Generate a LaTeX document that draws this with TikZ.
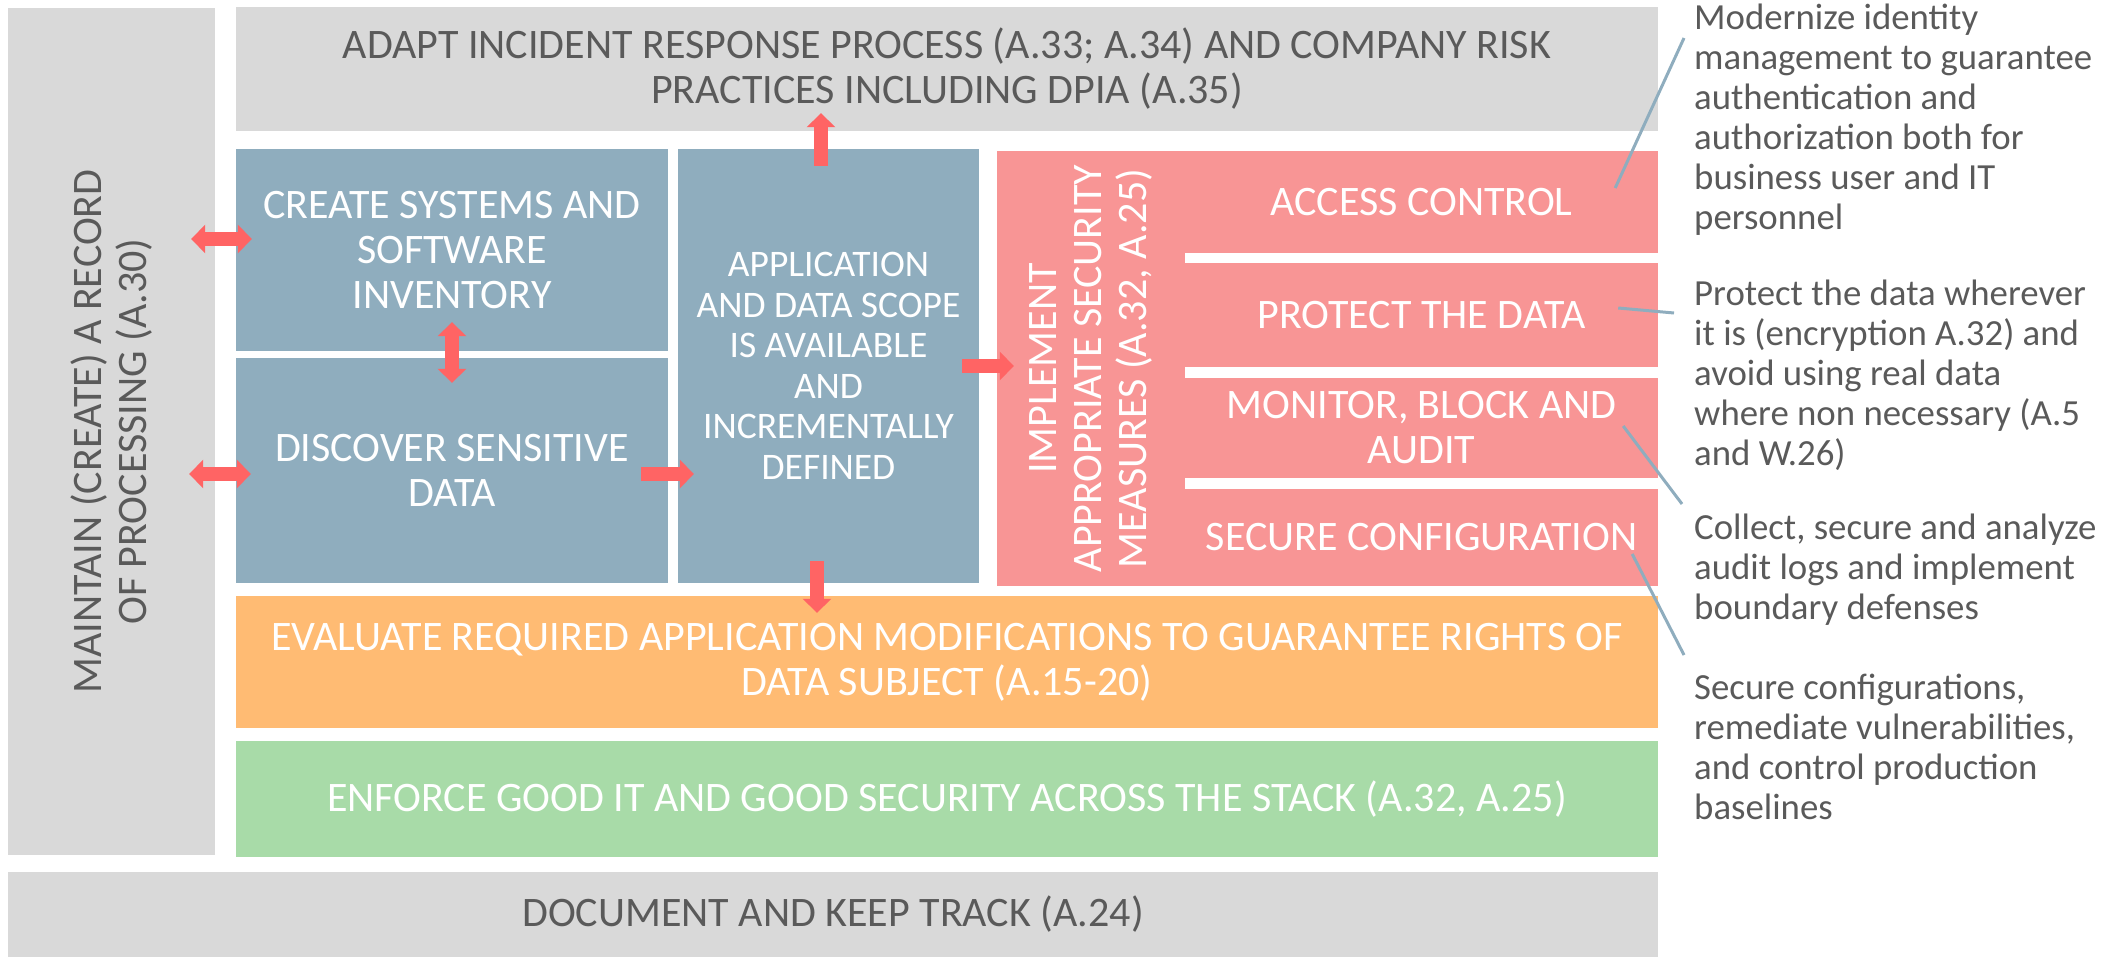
\documentclass[tikz,border=0pt]{standalone}
\usepackage{fontspec}
\setmainfont{Carlito}
\usetikzlibrary{arrows.meta}

\definecolor{greyfill}{HTML}{D9D9D9}
\definecolor{greyink}{HTML}{5A5A5A}
\definecolor{bluefill}{HTML}{8FADBE}
\definecolor{pinkfill}{HTML}{F89595}
\definecolor{orangefill}{HTML}{FFBB73}
\definecolor{greenfill}{HTML}{A8DBA8}
\definecolor{arrowred}{HTML}{FF6464}
\definecolor{leadline}{HTML}{8FADBE}

\newcommand{\boxsize}{\fontsize{42}{45}\selectfont}
\newcommand{\scopesize}{\fontsize{37.5}{40.5}\selectfont}
\newcommand{\notesize}{\fontsize{36.8}{40}\selectfont}

\tikzset{
  box/.style={rectangle, inner sep=0pt, align=center, font=\boxsize},
  greybox/.style={box, fill=greyfill, text=greyink},
  bluebox/.style={box, fill=bluefill, text=white},
  pinkbox/.style={box, fill=pinkfill, text=white},
  blockarrow/.style={draw=arrowred, line width=14pt, -{Triangle[width=28pt,length=14pt]}},
  callout/.style={draw=leadline, line width=3pt},
  note/.style={anchor=west, inner sep=0pt, align=left, text=greyink, font=\notesize}
}

\begin{document}
\begin{tikzpicture}[x=1pt,y=-1pt]
\useasboundingbox (0,0) rectangle (2122,960);

% frame boxes
\node[greybox, minimum width=207, minimum height=847] (maintain) at (111.5,431.5) {};
\node[rotate=90, align=center, text=greyink, font=\boxsize] (maintaintext) at (maintain) {MAINTAIN (CREATE) A RECORD\\OF PROCESSING (A.30)};
\node[greybox, minimum width=1422, minimum height=124] (adapt) at (947,69) {ADAPT INCIDENT RESPONSE PROCESS (A.33; A.34) AND COMPANY RISK\\PRACTICES INCLUDING DPIA (A.35)};

% scope boxes
\node[bluebox, minimum width=432, minimum height=202] (create) at (452,250) {CREATE SYSTEMS AND\\SOFTWARE\\INVENTORY};
\node[bluebox, minimum width=432, minimum height=225] (discover) at (452,470.5) {DISCOVER SENSITIVE\\DATA};
\node[bluebox, minimum width=301, minimum height=434, font=\scopesize] (scope) at (828.5,366) {APPLICATION\\AND DATA SCOPE\\IS AVAILABLE\\AND\\INCREMENTALLY\\DEFINED};

% security measures
\node[pinkbox, minimum width=188, minimum height=435] (measures) at (1091,368.5) {};
\node[rotate=90, align=center, text=white, font=\boxsize] (measurestext) at (measures) {IMPLEMENT\\APPROPRIATE SECURITY\\MEASURES (A.32, A.25)};
\node[pinkbox, minimum width=473, minimum height=102] (access) at (1421.5,202) {ACCESS CONTROL};
\node[pinkbox, minimum width=473, minimum height=104] (protect) at (1421.5,315) {PROTECT THE DATA};
\node[pinkbox, minimum width=473, minimum height=100] (monitor) at (1421.5,428) {MONITOR, BLOCK AND\\AUDIT};
\node[pinkbox, minimum width=473, minimum height=97] (config) at (1421.5,537.5) {SECURE CONFIGURATION};

% bottom layers
\node[box, fill=orangefill, text=white, minimum width=1422, minimum height=132] (evaluate) at (947,662) {EVALUATE REQUIRED APPLICATION MODIFICATIONS TO GUARANTEE RIGHTS OF\\DATA SUBJECT (A.15-20)};
\node[box, fill=greenfill, text=white, minimum width=1422, minimum height=116] (enforce) at (947,799) {ENFORCE GOOD IT AND GOOD SECURITY ACROSS THE STACK (A.32, A.25)};
\node[greybox, minimum width=1650, minimum height=85] (document) at (833,914.5) {DOCUMENT AND KEEP TRACK (A.24)};

% notes
\node[note] (note1) at (1694,120) {Modernize identity\\management to guarantee\\authentication and\\authorization both for\\business user and IT\\personnel};
\node[note] (note2) at (1694,375) {Protect the data wherever\\it is (encryption A.32) and\\avoid using real data\\where non necessary (A.5\\and W.26)};
\node[note] (note3) at (1694,570) {Collect, secure and analyze\\audit logs and implement\\boundary defenses};
\node[note] (note4) at (1694,747) {Secure configurations,\\remediate vulnerabilities,\\and control production\\baselines};

% arrows
\draw[blockarrow] ([xshift=-7.5pt,yshift=-17pt]scope.north) -- ([xshift=-7.5pt,yshift=18pt]scope.north |- adapt.south);
\draw[blockarrow] ([xshift=-11.5pt,yshift=22pt]scope.south) -- ([xshift=-11.5pt,yshift=-17pt]scope.south |- evaluate.north);
\draw[blockarrow] ([xshift=-17pt]scope.east) -- ([xshift=17pt]measures.west |- scope.east);
\draw[blockarrow] ([xshift=-27pt,yshift=-3.5pt]discover.east) -- ([xshift=16pt,yshift=-3.5pt]scope.west |- discover.east);
\draw[blockarrow,{Triangle[width=28pt,length=14pt]}-{Triangle[width=28pt,length=14pt]}] ([xshift=-24pt,yshift=11pt]maintain.east |- create.west) -- ([xshift=16pt,yshift=11pt]create.west);
\draw[blockarrow,{Triangle[width=28pt,length=14pt]}-{Triangle[width=28pt,length=14pt]}] ([xshift=-26pt,yshift=-3.5pt]maintain.east |- discover.west) -- ([xshift=15pt,yshift=-3.5pt]discover.west);
\draw[blockarrow,{Triangle[width=28pt,length=14pt]}-{Triangle[width=28pt,length=14pt]}] ([yshift=29pt]create.south) -- ([yshift=-25pt]discover.north);

% callout lines
\draw[callout] ([shift={(-43,-14)}]access.east) -- ([shift={(-10,-82)}]note1.west);
\draw[callout] ([shift={(-40,-7)}]protect.east) -- ([shift={(-20,-62)}]note2.west);
\draw[callout] ([shift={(-35,-2)}]monitor.east) -- ([shift={(-12,-66)}]note3.west);
\draw[callout] ([shift={(-26,16.5)}]config.east) -- ([shift={(-10,-92)}]note4.west);
\end{tikzpicture}
\end{document}
